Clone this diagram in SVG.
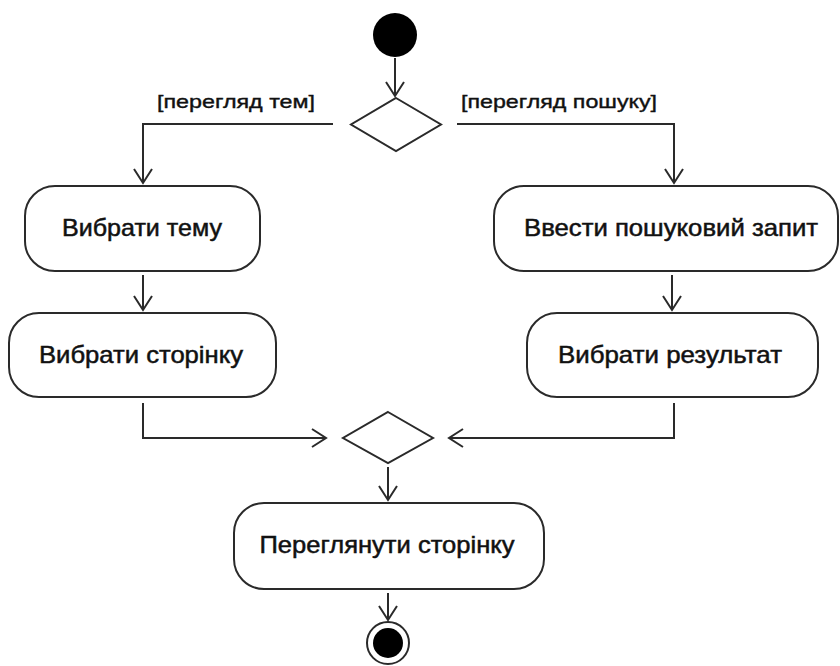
<svg xmlns="http://www.w3.org/2000/svg" width="840" height="666" viewBox="0 0 840 666">
  <style>
    .box { fill: #ffffff; stroke: #2a2a2a; stroke-width: 2; }
    .dec { fill: #ffffff; stroke: #2a2a2a; stroke-width: 2; }
    .lbl { font-family: "Liberation Sans", Arial, sans-serif; font-size: 24px; fill: #111111; stroke: #111111; stroke-width: 0.5; text-anchor: middle; }
    .grd { font-family: "Liberation Sans", Arial, sans-serif; font-size: 19px; fill: #111111; stroke: #111111; stroke-width: 0.4; }
    .flow { fill: none; stroke: #2a2a2a; stroke-width: 2; marker-end: url(#open); }
  </style>
  <defs>
    <marker id="open" markerUnits="userSpaceOnUse" markerWidth="20" markerHeight="24" viewBox="-16 -12 20 24" refX="0" refY="0" orient="auto">
      <path d="M-14,-9 L0,0 L-14,9" fill="none" stroke="#2a2a2a" stroke-width="2"/>
    </marker>
  </defs>
  <rect width="840" height="666" fill="#ffffff"/>

  <!-- control flows -->
  <g id="connectors">
    <path class="flow" d="M395,58 V96"/>
    <path class="flow" d="M333,124 H143 V183"/>
    <path class="flow" d="M457,124 H674 V183"/>
    <path class="flow" d="M143,275 V310"/>
    <path class="flow" d="M672,275 V310"/>
    <path class="flow" d="M143,403 V438 H326"/>
    <path class="flow" d="M674,403 V438 H449"/>
    <path class="flow" d="M388,467 V500"/>
    <path class="flow" d="M388,593 V620"/>
    <text class="grd" x="157" y="108" textLength="158" lengthAdjust="spacingAndGlyphs">[перегляд тем]</text>
    <text class="grd" x="461" y="108" textLength="196" lengthAdjust="spacingAndGlyphs">[перегляд пошуку]</text>
  </g>

  <g id="start">
    <circle cx="395" cy="35" r="22" fill="#000000"/>
  </g>

  <g id="decision">
    <polygon class="dec" points="396,98 441,124.5 396,151 351,124.5"/>
  </g>

  <g id="choose-topic">
    <rect class="box" x="25" y="186" width="235" height="85" rx="30" ry="30"/>
    <text class="lbl" x="142" y="236" textLength="160" lengthAdjust="spacingAndGlyphs">Вибрати тему</text>
  </g>

  <g id="choose-page">
    <rect class="box" x="9" y="313" width="267" height="84" rx="30" ry="30"/>
    <text class="lbl" x="141" y="363" textLength="204" lengthAdjust="spacingAndGlyphs">Вибрати сторінку</text>
  </g>

  <g id="enter-query">
    <rect class="box" x="494" y="186" width="344" height="85" rx="30" ry="30"/>
    <text class="lbl" x="671" y="236" textLength="294" lengthAdjust="spacingAndGlyphs">Ввести пошуковий запит</text>
  </g>

  <g id="choose-result">
    <rect class="box" x="527" y="313" width="291" height="84" rx="30" ry="30"/>
    <text class="lbl" x="670" y="363" textLength="224" lengthAdjust="spacingAndGlyphs">Вибрати результат</text>
  </g>

  <g id="merge">
    <polygon class="dec" points="388,412 433,438 388,463 343,438"/>
  </g>

  <g id="view-page">
    <rect class="box" x="234" y="503" width="310" height="86" rx="30" ry="30"/>
    <text class="lbl" x="387" y="553" textLength="255" lengthAdjust="spacingAndGlyphs">Переглянути сторінку</text>
  </g>

  <g id="end">
    <circle cx="388" cy="643" r="21" fill="#ffffff" stroke="#2a2a2a" stroke-width="2"/>
    <circle cx="388" cy="643" r="15" fill="#000000"/>
  </g>
</svg>
